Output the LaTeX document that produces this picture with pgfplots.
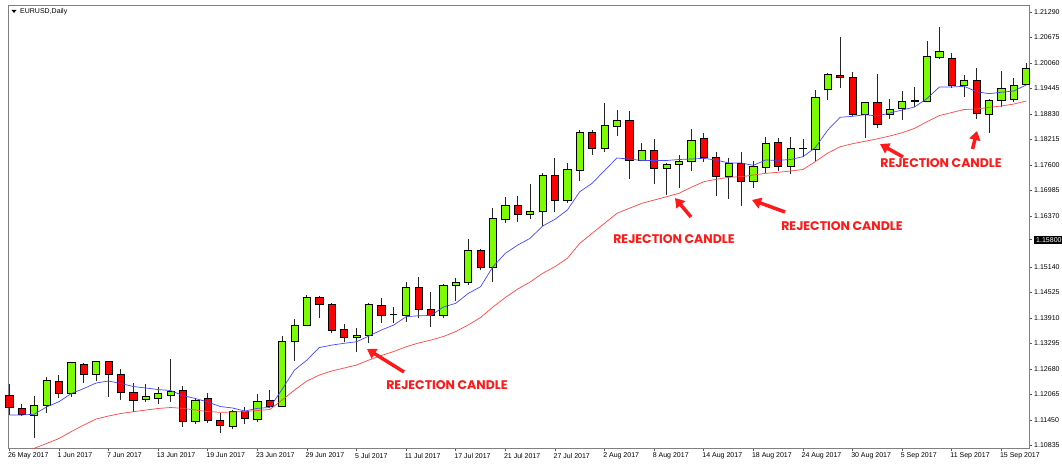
\documentclass[border=0pt]{standalone}
\usepackage{pgfplots}
\pgfplotsset{compat=1.18}
\usepackage{pgfplotstable}
\usepackage{fontspec}
\setmainfont{Liberation Sans}
\newfontfamily\annfont{Poppins}
\usetikzlibrary{arrows.meta}
\definecolor{bullc}{RGB}{124,252,0}
\definecolor{bearc}{RGB}{255,0,0}
\definecolor{mtframe}{RGB}{128,128,128}
\definecolor{mafast}{RGB}{70,70,255}
\definecolor{maslow}{RGB}{255,70,70}
\definecolor{annred}{RGB}{255,25,25}

\pgfplotstableread{
i o h l c
0 1.12054 1.12319 1.11572 1.11765
1 1.11741 1.11837 1.11555 1.11579
2 1.11572 1.12030 1.11010 1.11813
3 1.11813 1.12495 1.11613 1.12399
4 1.12392 1.12536 1.11989 1.12095
5 1.12095 1.12850 1.12013 1.12833
6 1.12802 1.12833 1.12336 1.12553
7 1.12553 1.12881 1.12399 1.12867
8 1.12867 1.12881 1.12013 1.12553
9 1.12553 1.12674 1.11933 1.12119
10 1.12119 1.12336 1.11651 1.11933
11 1.11957 1.12312 1.11892 1.12013
12 1.11981 1.12247 1.11837 1.12095
13 1.12054 1.12922 1.11892 1.12150
14 1.12158 1.12261 1.11291 1.11427
15 1.11420 1.11974 1.11355 1.11933
16 1.11965 1.12110 1.11386 1.11434
17 1.11444 1.11627 1.11130 1.11314
18 1.11306 1.11692 1.11227 1.11651
19 1.11651 1.11757 1.11355 1.11483
20 1.11475 1.12071 1.11410 1.11909
21 1.11916 1.12163 1.11733 1.11772
22 1.11789 1.13477 1.11757 1.13356
23 1.13356 1.13880 1.12881 1.13742
24 1.13735 1.14466 1.13718 1.14400
25 1.14400 1.14441 1.13904 1.14248
26 1.14241 1.14280 1.13556 1.13621
27 1.13638 1.13766 1.13339 1.13446
28 1.13436 1.13663 1.13098 1.13494
29 1.13494 1.14265 1.13301 1.14241
30 1.14224 1.14400 1.13798 1.13983
31 1.14007 1.14184 1.13798 1.14007
32 1.13983 1.14786 1.13822 1.14651
33 1.14651 1.14892 1.13904 1.14121
34 1.14121 1.14545 1.13701 1.13966
35 1.13966 1.14724 1.13904 1.14690
36 1.14690 1.14868 1.14328 1.14772
37 1.14772 1.15816 1.14707 1.15534
38 1.15534 1.15568 1.15068 1.15134
39 1.15134 1.16571 1.14786 1.16315
40 1.16298 1.16836 1.16195 1.16636
41 1.16636 1.16853 1.16224 1.16419
42 1.16419 1.17135 1.16291 1.16491
43 1.16474 1.17400 1.16129 1.17359
44 1.17359 1.17777 1.16474 1.16740
45 1.16740 1.17641 1.16692 1.17497
46 1.17480 1.18444 1.17203 1.18396
47 1.18396 1.18444 1.17842 1.18003
48 1.18003 1.19088 1.17921 1.18548
49 1.18541 1.18927 1.18300 1.18686
50 1.18686 1.18895 1.17270 1.17709
51 1.17704 1.18123 1.17692 1.17945
52 1.17945 1.18220 1.17135 1.17521
53 1.17521 1.17653 1.16877 1.17617
54 1.17617 1.17842 1.17046 1.17679
55 1.17684 1.18461 1.17462 1.18186
56 1.18244 1.18365 1.17673 1.17786
57 1.17777 1.17902 1.16853 1.17335
58 1.17335 1.17769 1.16781 1.17641
59 1.17641 1.17902 1.16605 1.17215
60 1.17215 1.17697 1.17053 1.17569
61 1.17552 1.18276 1.17408 1.18126
62 1.18136 1.18244 1.17456 1.17576
63 1.17564 1.18276 1.17372 1.18003
64 1.18003 1.18228 1.17801 1.18003
65 1.17986 1.19409 1.17704 1.19233
66 1.19433 1.19826 1.19168 1.19788
67 1.19771 1.20694 1.19450 1.19706
68 1.19706 1.19836 1.18789 1.18823
69 1.18823 1.19127 1.18244 1.19113
70 1.19103 1.19788 1.18486 1.18582
71 1.18830 1.19192 1.18710 1.18951
72 1.18968 1.19392 1.18686 1.19127
73 1.19127 1.19489 1.18992 1.19168
74 1.19127 1.20598 1.19113 1.20212
75 1.20198 1.20935 1.20149 1.20350
76 1.20174 1.20309 1.19450 1.19513
77 1.19513 1.19771 1.19248 1.19650
78 1.19650 1.19932 1.18703 1.18847
79 1.18823 1.19192 1.18365 1.19168
80 1.19168 1.19874 1.18992 1.19450
81 1.19192 1.19691 1.19127 1.19530
82 1.19554 1.20067 1.19530 1.19932
}\candles

\pgfplotstableread{
i fast slow
0 1.11572 1.10535
1 1.11572 1.10655
2 1.11589 1.10768
3 1.11765 1.10884
4 1.11892 1.11005
5 1.12090 1.11173
6 1.12210 1.11330
7 1.12343 1.11475
8 1.12392 1.11548
9 1.12331 1.11608
10 1.12259 1.11651
11 1.12223 1.11692
12 1.12186 1.11729
13 1.12162 1.11753
14 1.12042 1.11733
15 1.11970 1.11692
16 1.11885 1.11656
17 1.11777 1.11637
18 1.11741 1.11644
19 1.11668 1.11656
20 1.11733 1.11680
21 1.11753 1.11704
22 1.12191 1.11933
23 1.12657 1.12174
24 1.12896 1.12392
25 1.13199 1.12536
26 1.13258 1.12633
27 1.13301 1.12705
28 1.13339 1.12777
29 1.13477 1.12898
30 1.13621 1.13006
31 1.13742 1.13103
32 1.13942 1.13219
33 1.13966 1.13308
34 1.13971 1.13380
35 1.14176 1.13465
36 1.14265 1.13585
37 1.14502 1.13742
38 1.14666 1.13923
39 1.15148 1.14176
40 1.15471 1.14405
41 1.15671 1.14610
42 1.15833 1.14779
43 1.16129 1.14989
44 1.16291 1.15148
45 1.16515 1.15350
46 1.16957 1.15712
47 1.17159 1.15953
48 1.17468 1.16195
49 1.17769 1.16436
50 1.17745 1.16556
51 1.17709 1.16677
52 1.17709 1.16756
53 1.17709 1.16836
54 1.17733 1.16918
55 1.17745 1.17063
56 1.17762 1.17198
57 1.17721 1.17256
58 1.17649 1.17304
59 1.17649 1.17318
60 1.17593 1.17359
61 1.17721 1.17400
62 1.17713 1.17424
63 1.17733 1.17456
64 1.17801 1.17492
65 1.18022 1.17684
66 1.18444 1.17889
67 1.18751 1.18041
68 1.18775 1.18114
69 1.18813 1.18172
70 1.18782 1.18232
71 1.18854 1.18300
72 1.18927 1.18379
73 1.18999 1.18485
74 1.19204 1.18645
75 1.19482 1.18794
76 1.19482 1.18866
77 1.19498 1.18939
78 1.19368 1.18951
79 1.19320 1.18992
80 1.19356 1.19023
81 1.19385 1.19071
82 1.19530 1.19144
}\mas

\begin{document}
\begin{tikzpicture}
\useasboundingbox (0,0) rectangle (1062pt,463pt);
\begin{axis}[
  at={(8pt,14.7pt)}, anchor=south west,
  scale only axis, width=1021pt, height=442.6pt,
  xmin=-0.105, xmax=82.23,
  ymin=1.10769, ymax=1.21442,
  axis line style={mtframe, line width=0.8pt},
  tick align=outside, major tick length=3pt,
  tick style={mtframe!70!black, line width=0.6pt},
  xtick pos=bottom, ytick pos=right, yticklabel pos=right,
  /pgf/number format/assume math mode=true,
  xtick={0,4,...,80},
  xticklabels={26 May 2017,1 Jun 2017,7 Jun 2017,13 Jun 2017,19 Jun 2017,23 Jun 2017,29 Jun 2017,5 Jul 2017,11 Jul 2017,17 Jul 2017,21 Jul 2017,27 Jul 2017,2 Aug 2017,8 Aug 2017,14 Aug 2017,18 Aug 2017,24 Aug 2017,30 Aug 2017,5 Sep 2017,11 Sep 2017,15 Sep 2017},
  ytick={1.10835,1.11450,1.12065,1.12680,1.13295,1.13910,1.14525,1.15140,1.16370,1.16985,1.17600,1.18215,1.18830,1.19445,1.20060,1.20675,1.21290},
  yticklabels={1.10835,1.11450,1.12065,1.12680,1.13295,1.13910,1.14525,1.15140,1.16370,1.16985,1.17600,1.18215,1.18830,1.19445,1.20060,1.20675,1.21290},
  extra y ticks={1.158},
  extra y tick labels={1.15800},
  extra y tick style={yticklabel style={fill=black, text=white, inner xsep=2pt, inner ysep=1.5pt, xshift=0pt}},
  xticklabel style={font=\fontsize{7}{8}\selectfont, anchor=north west, inner sep=0pt, xshift=-1.5pt, yshift=-1.5pt},
  yticklabel style={font=\fontsize{7}{8}\selectfont, anchor=west, inner sep=0pt, xshift=2pt},
  clip=true, clip mode=individual,
]
\addplot[
  scatter, only marks, mark=*, mark size=0pt, mark options={draw=none,fill=none},
  visualization depends on={\thisrow{h} \as \ch},
  visualization depends on={\thisrow{l} \as \cl},
  visualization depends on={\thisrow{c} \as \cc},
  visualization depends on={\thisrow{o} \as \co},
  scatter/@pre marker code/.code={%
    \pgfplotspointaxisxy{0}{\co}\pgfgetlastxy{\tmpx}{\yO}%
    \pgfplotspointaxisxy{0}{\cc}\pgfgetlastxy{\tmpx}{\yC}%
    \pgfplotspointaxisxy{0}{\ch}\pgfgetlastxy{\tmpx}{\yH}%
    \pgfplotspointaxisxy{0}{\cl}\pgfgetlastxy{\tmpx}{\yL}%
    \pgfmathsetmacro\dC{\yC-\yO}%
    \pgfmathsetmacro\dH{\yH-\yO}%
    \pgfmathsetmacro\dL{\yL-\yO}%
    \draw[black!85, line width=0.9pt] (0pt,\dL pt) -- (0pt,\dH pt);
    \ifdim\dC pt>0.3pt
      \filldraw[fill=bullc, draw=black, line width=0.8pt] (-3.6pt,0pt) rectangle (3.6pt,\dC pt);
    \else\ifdim\dC pt<-0.3pt
      \filldraw[fill=bearc, draw=black, line width=0.8pt] (-3.6pt,0pt) rectangle (3.6pt,\dC pt);
    \else
      \draw[black, line width=0.9pt] (-3.6pt,0pt) -- (3.6pt,0pt);
    \fi\fi
    \begin{scope}
  },
  scatter/@post marker code/.code={\end{scope}},
] table[x=i, y=o] {\candles};
\addplot[mafast, line width=0.7pt, no marks] table[x=i, y=fast] {\mas};
\addplot[maslow, line width=0.7pt, no marks] table[x=i, y=slow] {\mas};
\end{axis}
% chart title
\fill (11.5pt,453pt) -- (16.5pt,453pt) -- (14pt,450pt) -- cycle;
\node[anchor=west, inner sep=0pt, font=\fontsize{7}{8}\selectfont] at (20pt,451pt) {EURUSD,Daily};
% annotations
\begin{scope}[annred, line width=3.5pt]
\draw[-{Triangle[length=9pt,width=11pt]}] (404pt,91pt) -- (367pt,114pt);
\draw[-{Triangle[length=9pt,width=11pt]}] (691pt,246pt) -- (675pt,265pt);
\draw[-{Triangle[length=9pt,width=11pt]}] (785pt,251pt) -- (752pt,263pt);
\draw[-{Triangle[length=9pt,width=11pt]}] (903pt,306pt) -- (880pt,319pt);
\draw[-{Triangle[length=9pt,width=11pt]}] (972.5pt,314pt) -- (977pt,332pt);
\end{scope}
\begin{scope}[every node/.style={text=annred, inner sep=0pt, font=\annfont\bfseries\fontsize{12.5}{14}\selectfont}]
\node at (447pt,78pt) {REJECTION CANDLE};
\node at (674pt,224pt) {REJECTION CANDLE};
\node at (842pt,237pt) {REJECTION CANDLE};
\node at (941pt,300pt) {REJECTION CANDLE};
\end{scope}
\end{tikzpicture}
\end{document}
